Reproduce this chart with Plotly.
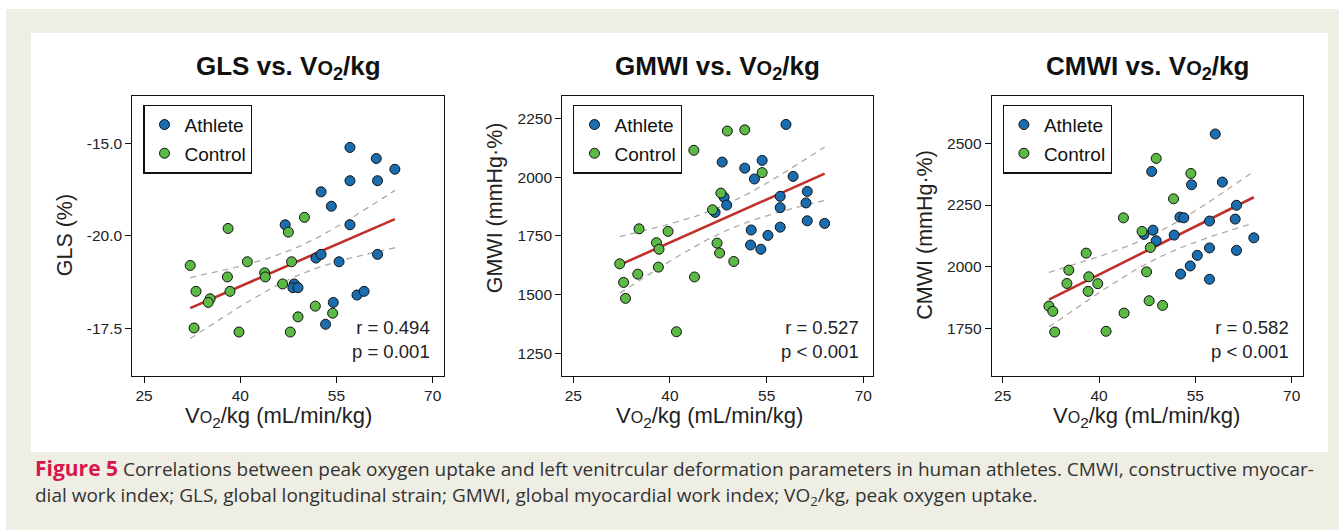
import numpy as np
import plotly.graph_objects as go

# ---------------- data ----------------
x_ticks = [25, 40, 55, 70]

gls_ath_x = [57.1, 61.2, 64.1, 57.1, 61.4, 52.6, 54.2, 47.0, 57.1, 51.8, 52.6, 55.4, 61.4, 48.4, 48.2, 49.0, 58.2, 59.3, 54.5, 53.3]
gls_ath_y = [-15.11, -15.41, -15.70, -16.01, -16.01, -16.31, -16.70, -17.20, -17.20, -18.10, -18.00, -18.20, -18.00, -18.80, -18.90, -18.90, -19.10, -19.00, -19.30, -19.89]
gls_con_x = [38.1, 50.0, 47.5, 32.2, 41.1, 48.0, 43.8, 43.9, 38.0, 46.6, 33.1, 38.4, 35.3, 35.0, 51.7, 54.4, 49.0, 32.8, 39.8, 47.8]
gls_con_y = [-17.30, -17.00, -17.40, -18.30, -18.20, -18.20, -18.50, -18.61, -18.61, -18.80, -19.00, -19.00, -19.20, -19.30, -19.40, -19.59, -19.69, -19.99, -20.10, -20.10]
gls_tickvals = [-15.0, -17.5, -20.0]
gls_ticktext = ["-15.0", "-20.0", "-17.5"]

gmwi_ath_x = [58.0, 48.1, 51.6, 54.3, 53.1, 59.1, 57.1, 61.3, 48.4, 48.8, 47.0, 57.1, 61.1, 61.3, 64.0, 57.1, 52.6, 55.2, 52.5, 54.1]
gmwi_ath_y = [2224, 2064, 2038, 2071, 1992, 2003, 1918, 1939, 1914, 1881, 1850, 1870, 1890, 1814, 1803, 1787, 1775, 1752, 1711, 1693]
gmwi_con_x = [48.9, 51.6, 43.7, 54.3, 47.9, 46.6, 35.2, 39.7, 37.9, 38.3, 47.3, 47.7, 49.9, 32.2, 35.0, 38.2, 43.8, 32.8, 33.1, 41.0]
gmwi_con_y = [2196, 2201, 2114, 2019, 1932, 1861, 1780, 1769, 1721, 1693, 1719, 1677, 1641, 1631, 1587, 1617, 1575, 1552, 1484, 1342]
gmwi_tickvals = [1250, 1500, 1750, 2000, 2250]

cmwi_ath_x = [58.1, 48.2, 59.2, 54.4, 61.4, 52.6, 53.2, 61.2, 57.2, 48.4, 47.0, 51.7, 48.9, 64.1, 57.2, 61.4, 55.3, 54.2, 52.7, 57.2]
cmwi_ath_y = [2538, 2386, 2343, 2332, 2249, 2201, 2198, 2193, 2185, 2148, 2131, 2128, 2105, 2117, 2076, 2066, 2046, 2003, 1970, 1949]
cmwi_con_x = [48.9, 54.3, 51.6, 43.8, 46.7, 48.0, 38.0, 35.3, 38.4, 35.0, 39.8, 38.3, 47.4, 47.8, 49.9, 32.2, 32.8, 43.9, 33.1, 41.1]
cmwi_con_y = [2439, 2378, 2275, 2198, 2143, 2078, 2055, 1986, 1959, 1932, 1931, 1900, 1979, 1862, 1843, 1840, 1819, 1812, 1735, 1738]
cmwi_tickvals = [1750, 2000, 2250, 2500]

titles = ["GLS vs. V<span style='font-size:20px'>O</span><sub>2</sub>/kg",
          "GMWI vs. V<span style='font-size:20px'>O</span><sub>2</sub>/kg",
          "CMWI vs. V<span style='font-size:20px'>O</span><sub>2</sub>/kg"]
y_titles = ["GLS (%)", "GMWI (mmHg·%)", "CMWI (mmHg·%)"]
x_title = "V<span style='font-size:16px'>O</span><sub>2</sub>/kg (mL/min/kg)"
r_text = ["r = 0.494", "r = 0.527", "r = 0.582"]
p_text = ["p = 0.001", "p < 0.001", "p < 0.001"]
series_names = ["Athlete", "Control"]

caption1 = ("<span style='color:#d4174c;font-size:21px'><b>Figure 5</b></span> Correlations between peak oxygen uptake "
            "and left venitrcular deformation parameters in human athletes. CMWI, constructive myocar-")
caption2 = ("dial work index; GLS, global longitudinal strain; GMWI, global myocardial work index; "
            "VO<sub>2</sub>/kg, peak oxygen uptake.")

# ---------------- layout constants ----------------
W, H = 1339, 530
def fx(p): return p / W
def fy(p): return 1 - p / H

panels = [
    dict(x0=132.3, x1=444.0, xr=[23.17, 71.76], yr=[-21.28, -13.72], tv=gls_tickvals, tt=gls_ticktext,
         ax=gls_ath_x, ay=gls_ath_y, cx=gls_con_x, cy=gls_con_y, xt=278, yt=235, tt_c=288),
    dict(x0=562.3, x1=873.0, xr=[23.29, 71.5], yr=[1155, 2345], tv=gmwi_tickvals, tt=[str(v) for v in gmwi_tickvals],
         ax=gmwi_ath_x, ay=gmwi_ath_y, cx=gmwi_con_x, cy=gmwi_con_y, xt=709, yt=208, tt_c=717),
    dict(x0=991.7, x1=1302.7, xr=[23.29, 71.71], yr=[1558, 2692], tv=cmwi_tickvals, tt=[str(v) for v in cmwi_tickvals],
         ax=cmwi_ath_x, ay=cmwi_ath_y, cx=cmwi_con_x, cy=cmwi_con_y, xt=1146, yt=235, tt_c=1147),
]
Y0, Y1 = 96.0, 375.7
ATH_COL = "#1a6eb0"
CON_COL = "#5cb946"
FONT = "Liberation Sans, Arial, sans-serif"

fig = go.Figure()
annotations = []
layout_axes = {}
T_CRIT = 2.024  # t(0.975, df=38)

for i, p in enumerate(panels, start=1):
    xa = "x" if i == 1 else f"x{i}"
    ya = "y" if i == 1 else f"y{i}"
    leg = "legend" if i == 1 else f"legend{i}"

    xs_all = np.array(p["ax"] + p["cx"], dtype=float)
    ys_all = np.array(p["ay"] + p["cy"], dtype=float)
    n = len(xs_all)
    b, a = np.polyfit(xs_all, ys_all, 1)
    xline = np.linspace(xs_all.min(), xs_all.max(), 60)
    yline = a + b * xline
    resid = ys_all - (a + b * xs_all)
    s = np.sqrt(np.sum(resid ** 2) / (n - 2))
    xm = xs_all.mean()
    sxx = np.sum((xs_all - xm) ** 2)
    se = s * np.sqrt(1.0 / n + (xline - xm) ** 2 / sxx)

    for sign in (1, -1):
        fig.add_trace(go.Scatter(x=xline, y=yline + sign * T_CRIT * se, mode="lines",
                                 line=dict(color="#ababab", width=1.3, dash="6px,5px"),
                                 showlegend=False, hoverinfo="skip", xaxis=xa, yaxis=ya))
    fig.add_trace(go.Scatter(x=xline, y=yline, mode="lines", line=dict(color="#c0302a", width=2.6),
                             showlegend=False, hoverinfo="skip", xaxis=xa, yaxis=ya))
    fig.add_trace(go.Scatter(x=p["ax"], y=p["ay"], mode="markers", name=series_names[0],
                             marker=dict(color=ATH_COL, size=10, line=dict(color="#111111", width=1)),
                             xaxis=xa, yaxis=ya, legend=leg, legendgroup=f"a{i}"))
    fig.add_trace(go.Scatter(x=p["cx"], y=p["cy"], mode="markers", name=series_names[1],
                             marker=dict(color=CON_COL, size=10, line=dict(color="#111111", width=1)),
                             xaxis=xa, yaxis=ya, legend=leg, legendgroup=f"c{i}"))

    axis_common = dict(showgrid=False, zeroline=False, showline=True, linecolor="#111111", linewidth=1.2,
                       mirror=True, ticks="outside", ticklen=6, tickwidth=1.2, tickcolor="#111111",
                       tickfont=dict(family=FONT, size=15.5, color="#222222"))
    layout_axes["xaxis" if i == 1 else f"xaxis{i}"] = dict(
        domain=[fx(p["x0"]), fx(p["x1"])], range=p["xr"], tickvals=x_ticks,
        anchor=ya, **axis_common)
    layout_axes["yaxis" if i == 1 else f"yaxis{i}"] = dict(
        domain=[fy(Y1), fy(Y0)], range=p["yr"], tickvals=p["tv"], ticktext=p["tt"],
        anchor=xa, **axis_common)

    layout_axes[leg] = dict(x=fx(p["x0"] + 11), y=fy(104.5), xanchor="left", yanchor="top",
                            bgcolor="white", bordercolor="#111111", borderwidth=1.2,
                            font=dict(family=FONT, size=19, color="#111111"),
                            tracegroupgap=1, traceorder="grouped", itemwidth=30)

    annotations.append(dict(text=f"<b>{titles[i-1]}</b>", x=fx(p["tt_c"]), y=fy(68), xref="paper", yref="paper",
                            showarrow=False, xanchor="center", yanchor="middle",
                            font=dict(family=FONT, size=26, color="#111111")))
    annotations.append(dict(text=x_title, x=fx(p["xt"]), y=fy(417), xref="paper", yref="paper",
                            showarrow=False, xanchor="center", yanchor="middle",
                            font=dict(family=FONT, size=22, color="#222222")))
    annotations.append(dict(text=y_titles[i-1], x=fx(p["x0"] - 67), y=fy(p["yt"]), xref="paper", yref="paper",
                            showarrow=False, xanchor="center", yanchor="middle", textangle=-90,
                            font=dict(family=FONT, size=21.5, color="#222222")))
    annotations.append(dict(text=f"{r_text[i-1]}<br>{p_text[i-1]}", x=fx(p["x1"] - 12), y=fy(339),
                            xref="paper", yref="paper", showarrow=False, xanchor="right", yanchor="middle",
                            align="right", font=dict(family=FONT, size=18.5, color="#222222")))

CAP_FONT = "Open Sans, Lato, sans-serif"
annotations.append(dict(text=caption1, x=fx(33), y=fy(468), xref="paper", yref="paper", showarrow=False,
                        xanchor="left", yanchor="middle", font=dict(family=CAP_FONT, size=19, color="#333333")))
annotations.append(dict(text=caption2, x=fx(33), y=fy(496), xref="paper", yref="paper", showarrow=False,
                        xanchor="left", yanchor="middle", font=dict(family=CAP_FONT, size=19, color="#333333")))

shapes = [
    dict(type="rect", xref="paper", yref="paper", x0=fx(6), x1=1, y0=0, y1=fy(9),
         fillcolor="#efeee4", line=dict(width=0), layer="below"),
    dict(type="rect", xref="paper", yref="paper", x0=fx(31), x1=fx(1328), y0=fy(452), y1=fy(33),
         fillcolor="white", line=dict(width=0), layer="below"),
]

fig.update_layout(width=W, height=H, margin=dict(l=0, r=0, t=0, b=0), paper_bgcolor="white",
                  plot_bgcolor="rgba(0,0,0,0)", annotations=annotations, shapes=shapes,
                  font=dict(family=FONT), **layout_axes)
fig.write_html("out.html")
